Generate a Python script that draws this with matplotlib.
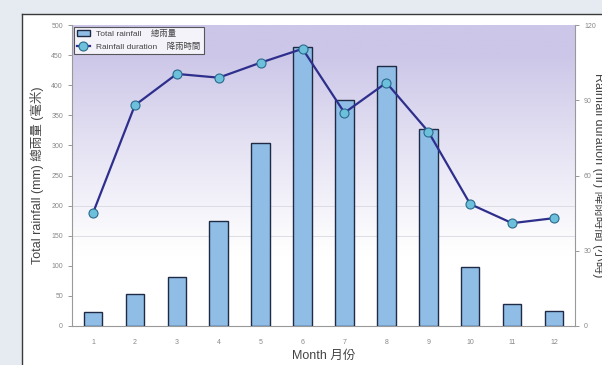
import numpy as np
import matplotlib
matplotlib.use("Agg")
import matplotlib.pyplot as plt

plt.rcParams['font.family'] = ['Liberation Sans', 'Noto Sans CJK TC', 'DejaVu Sans']

months = ['1', '2', '3', '4', '5', '6', '7', '8', '9', '10', '11', '12']
rainfall = [23, 53, 81, 174, 304, 463, 375, 432, 327, 98, 37, 25]
duration = [45, 88, 100.5, 99, 105, 110.5, 85, 97, 77.5, 48.6, 41, 43]
left_ticks = [0, 50, 100, 150, 200, 250, 300, 350, 400, 450, 500]
right_ticks = [0, 30, 60, 90, 120]

fig = plt.figure(figsize=(6.02, 3.65), dpi=100)
fig.patch.set_facecolor('#e5ebf1')

# white panel behind the chart
bg = fig.add_axes([22/602, -0.05, 1, 1 - 14/365 + 0.05], zorder=-5)
bg.set_xticks([])
bg.set_yticks([])
bg.set_facecolor('white')
for s in bg.spines.values():
    s.set_color('#3a3a3a')
    s.set_linewidth(1.0)

ax = fig.add_axes([72/602, 1 - 326/365, 503/602, 301/365])
ax.set_facecolor('none')

# gradient background: lavender at top fading to white
grad = np.linspace(0, 1, 256).reshape(-1, 1)
top = np.array([0.80, 0.78, 0.91])
bot = np.array([1.0, 1.0, 1.0])
w = np.clip(grad * 1.5 - 0.35, 0, 1) ** 1.1
img = bot + (top - bot) * w
img = img.reshape(256, 1, 3)
ax.imshow(img, extent=[0, 1, 0, 1], transform=ax.transAxes, aspect='auto',
          origin='lower', zorder=0)

x = np.arange(len(months))
ax.bar(x, rainfall, width=0.44, color='#8fbde6', edgecolor='#1f2a44',
       linewidth=1.0, zorder=3, label='Total rainfall    總雨量')
ax.set_xlim(-0.5, len(months) - 0.5)
ax.set_ylim(0, 500)
ax.set_yticks(left_ticks)
ax.set_xticks(x)
ax.set_xticklabels(months)
for yv in [150, 200]:
    ax.axhline(yv, color='#d8d8e0', lw=0.6, zorder=1)
ax.tick_params(axis='both', labelsize=5, colors='#888888', length=3, width=0.6)
ax.tick_params(axis='x', length=0, pad=9)
for s in ['left', 'bottom']:
    ax.spines[s].set_color('#999999')
for s in ['top', 'right']:
    ax.spines[s].set_visible(False)
ax.set_ylabel('Total rainfall (mm) 總雨量 (毫米)', fontsize=9, color='#444444', labelpad=5)
ax.set_xlabel('Month 月份', fontsize=9, color='#444444', labelpad=3)

ax2 = ax.twinx()
ax2.plot(x, duration, color='#2e2f8c', lw=1.6, marker='o', markersize=6.5,
         markerfacecolor='#6cc0dc', markeredgecolor='#2a6a8a', markeredgewidth=0.8,
         zorder=5, label='Rainfall duration    降雨時間')
ax2.set_ylim(0, 120)
ax2.set_yticks(right_ticks)
ax2.tick_params(axis='y', labelsize=5, colors='#888888', length=3, width=0.6)
for s in ['left', 'top', 'bottom']:
    ax2.spines[s].set_visible(False)
ax2.spines['right'].set_color('#999999')
ax2.set_ylabel('Rainfall duration (hr) 降雨時間 (小時)', fontsize=9, color='#444444',
               rotation=270, labelpad=7)

h1, l1 = ax.get_legend_handles_labels()
h2, l2 = ax2.get_legend_handles_labels()
leg = ax2.legend(h1 + h2, l1 + l2, loc='upper left', fontsize=6, frameon=True,
                 fancybox=False, edgecolor='#333333', borderaxespad=0.2,
                 handlelength=1.5)
leg.get_frame().set_linewidth(0.8)
for t in leg.get_texts():
    t.set_color('#444444')

fig.savefig('out.png', dpi=100, facecolor=fig.get_facecolor())
